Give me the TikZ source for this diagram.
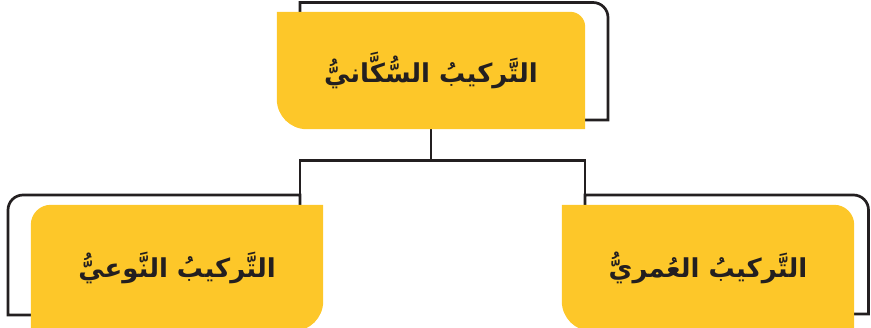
\documentclass[tikz,border=0pt]{standalone}
\usepackage{fontspec}
\newfontfamily\arabicfont[Script=Arabic]{DejaVu Sans}
\TeXXeTstate=1
\definecolor{boxyellow}{RGB}{253,199,41}
\definecolor{inkgray}{RGB}{35,31,32}
\pgfdeclarelayer{back}
\pgfdeclarelayer{paint}
\pgfsetlayers{back,paint,main}
\tikzset{
  boxtext/.style={inner sep=0pt, text=inkgray, font=\arabicfont\bfseries\fontsize{26}{30}\selectfont},
  frame/.style={draw=inkgray, line width=2.7pt},
  boxfill/.style={fill=boxyellow}
}
\begin{document}
\begin{tikzpicture}[x=1pt,y=1pt]
  \useasboundingbox (0,0) rectangle (871,327);
  % boxes
  \node[boxtext, minimum width=308pt, minimum height=117pt] (sukkani) at (431,256.5)
    {\beginR التَّركيبُ السُّكَّانيُّ\endR};
  \node[boxtext, minimum width=292pt, minimum height=126pt] (nawi) at (177,59)
    {\beginR التَّركيبُ النَّوعيُّ\endR};
  \node[boxtext, minimum width=292pt, minimum height=126pt] (umri) at (708,59)
    {\beginR التَّركيبُ العُمريُّ\endR};
  \coordinate (nawi-top) at (300,132);
  \coordinate (umri-top) at (585,132);
  \begin{pgfonlayer}{back}
    % frames behind the boxes
    \draw[frame] (300,207) -- (300,324.5) -- (593,324.5)
      arc[start angle=90, end angle=0, radius=15pt] -- (608,207) -- cycle;
    \draw[frame] (nawi-top) -- (23,132)
      arc[start angle=90, end angle=180, radius=15pt] -- (8,12) -- (300,12) -- cycle;
    \draw[frame] (umri-top) -- (853.5,132)
      arc[start angle=90, end angle=0, radius=15pt] -- (868.5,13) -- (585,13) -- cycle;
    % connectors
    \draw[frame] (sukkani.south) -- ++(0,-31) -| (nawi-top);
    \draw[frame] (sukkani.south) -- ++(0,-31) -| (umri-top);
  \end{pgfonlayer}
  \begin{pgfonlayer}{paint}
    \fill[boxfill] (sukkani.north west) -- ([xshift=-15pt]sukkani.north east)
      arc[start angle=90, end angle=0, radius=15pt] -- (sukkani.south east)
      -- ([xshift=30pt]sukkani.south west)
      arc[start angle=-90, end angle=-180, radius=30pt] -- cycle;
    \fill[boxfill] (nawi.south west) -- ([xshift=-30pt]nawi.south east)
      arc[start angle=-90, end angle=0, radius=30pt] -- (nawi.north east)
      -- ([xshift=20pt]nawi.north west)
      arc[start angle=90, end angle=180, radius=20pt] -- cycle;
    \fill[boxfill] (umri.north west) -- ([xshift=-20pt]umri.north east)
      arc[start angle=90, end angle=0, radius=20pt] -- (umri.south east)
      -- ([xshift=30pt]umri.south west)
      arc[start angle=-90, end angle=-180, radius=30pt] -- cycle;
  \end{pgfonlayer}
\end{tikzpicture}
\end{document}
